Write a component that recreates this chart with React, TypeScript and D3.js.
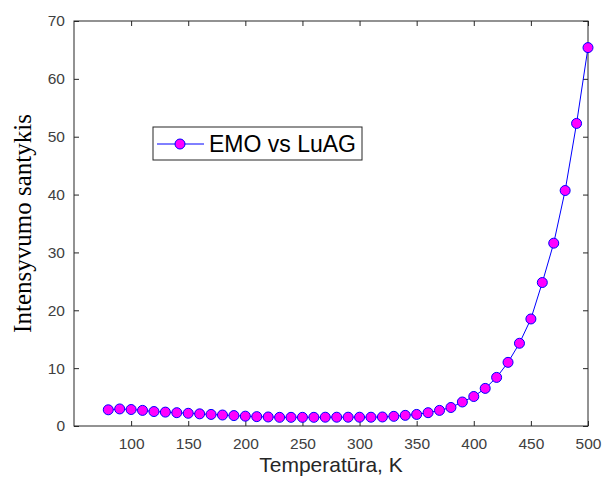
import React, { useRef, useEffect } from 'react';
import * as d3 from 'd3';

const temps = [
  80, 90, 100, 110, 120, 130, 140, 150, 160, 170, 180, 190, 200, 210, 220,
  230, 240, 250, 260, 270, 280, 290, 300, 310, 320, 330, 340, 350, 360, 370,
  380, 390, 400, 410, 420, 430, 440, 450, 460, 470, 480, 490, 500,
];
const ratio = [
  2.8, 2.95, 2.85, 2.7, 2.5, 2.4, 2.3, 2.2, 2.1, 2.0, 1.9, 1.8, 1.7, 1.62, 1.56,
  1.5, 1.5, 1.5, 1.5, 1.52, 1.52, 1.52, 1.52, 1.52, 1.56, 1.67, 1.84, 2.0, 2.3, 2.7,
  3.2, 4.15, 5.1, 6.5, 8.4, 11.0, 14.3, 18.5, 24.8, 31.6, 40.7, 52.3, 65.4,
];
const xTicks = [100, 150, 200, 250, 300, 350, 400, 450, 500];
const yTicks = [0, 10, 20, 30, 40, 50, 60, 70];
const seriesName = 'EMO vs LuAG';

const width = 604;
const height = 480;

const Chart = () => {
  const svgRef = useRef<SVGSVGElement>(null);

  useEffect(() => {
    const svg = d3.select(svgRef.current);
    svg.selectAll('*').remove();

    const margin = { top: 21, right: 16, bottom: 54, left: 74 };
    const innerWidth = width - margin.left - margin.right;
    const innerHeight = height - margin.top - margin.bottom;
    const axisColor = '#262626';
    const font = 'Arial, "Liberation Sans", sans-serif';

    const x = d3.scaleLinear().domain([50, 500]).range([0, innerWidth]);
    const y = d3.scaleLinear().domain([0, 70]).range([innerHeight, 0]);

    const g = svg.append('g').attr('transform', `translate(${margin.left},${margin.top})`);

    const styleAxis = (sel: any) => {
      sel.select('.domain').remove();
      sel.selectAll('line').attr('stroke', axisColor);
      sel.selectAll('text').attr('fill', '#404040').style('font-family', font).style('font-size', '15.5px');
    };

    // bottom & left carry labels, top & right only mirrored ticks
    g.append('g')
      .attr('transform', `translate(0,${innerHeight})`)
      .call(d3.axisBottom(x).tickValues(xTicks).tickSizeInner(-5).tickSizeOuter(0).tickPadding(12))
      .call(styleAxis);
    g.append('g')
      .call(d3.axisTop(x).tickValues(xTicks).tickSizeInner(-5).tickSizeOuter(0).tickFormat(() => ''))
      .call(styleAxis);
    g.append('g')
      .call(d3.axisLeft(y).tickValues(yTicks).tickSizeInner(-5).tickSizeOuter(0).tickPadding(9))
      .call(styleAxis);
    g.append('g')
      .attr('transform', `translate(${innerWidth},0)`)
      .call(d3.axisRight(y).tickValues(yTicks).tickSizeInner(-5).tickSizeOuter(0).tickFormat(() => ''))
      .call(styleAxis);

    g.append('rect')
      .attr('width', innerWidth)
      .attr('height', innerHeight)
      .attr('fill', 'none')
      .attr('stroke', axisColor)
      .attr('stroke-width', 1);

    const data = temps.map((t, i) => ({ t, v: ratio[i] }));

    const line = d3
      .line<{ t: number; v: number }>()
      .x(d => x(d.t))
      .y(d => y(d.v));

    g.append('path')
      .datum(data)
      .attr('fill', 'none')
      .attr('stroke', '#0000ff')
      .attr('stroke-width', 1)
      .attr('d', line);

    g.selectAll('circle.pt')
      .data(data)
      .enter()
      .append('circle')
      .attr('class', 'pt')
      .attr('cx', d => x(d.t))
      .attr('cy', d => y(d.v))
      .attr('r', 5)
      .attr('fill', '#ff00ff')
      .attr('stroke', '#0000ff')
      .attr('stroke-width', 1);

    // axis titles
    svg.append('text')
      .attr('x', margin.left + innerWidth / 2)
      .attr('y', 472)
      .attr('text-anchor', 'middle')
      .attr('fill', axisColor)
      .style('font-family', font)
      .style('font-size', '21px')
      .text('Temperatūra, K');

    svg.append('text')
      .attr('transform', `translate(31,${margin.top + innerHeight / 2}) rotate(-90)`)
      .attr('text-anchor', 'middle')
      .attr('fill', '#000')
      .style('font-family', '"Liberation Serif", "Times New Roman", serif')
      .style('font-size', '25px')
      .text('Intensyvumo santykis');

    // legend
    const legend = svg.append('g').attr('transform', 'translate(153,127)');
    legend.append('rect')
      .attr('width', 209)
      .attr('height', 33)
      .attr('fill', '#fff')
      .attr('stroke', axisColor)
      .attr('stroke-width', 1);
    legend.append('line')
      .attr('x1', 4).attr('x2', 51)
      .attr('y1', 17).attr('y2', 17)
      .attr('stroke', '#0000ff');
    legend.append('circle')
      .attr('cx', 27).attr('cy', 17).attr('r', 5)
      .attr('fill', '#ff00ff').attr('stroke', '#0000ff');
    legend.append('text')
      .attr('x', 56)
      .attr('y', 25)
      .attr('fill', '#000')
      .style('font-family', font)
      .style('font-size', '23px')
      .text(seriesName);
  }, []);

  return <svg ref={svgRef} width={width} height={height} style={{ position: 'absolute', left: 0, top: 0, background: '#fff' }} />;
};

export default function App() {
  return <Chart />;
}
